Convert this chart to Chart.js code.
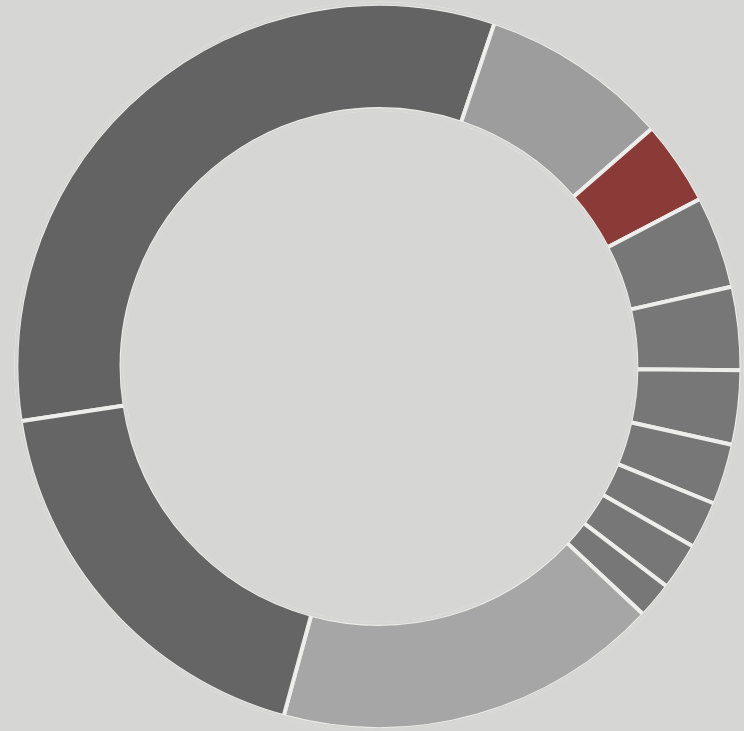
<!DOCTYPE html>
<html>
<head>
<meta charset="utf-8">
<script src="https://cdn.jsdelivr.net/npm/chart.js@4"></script>
<style>
  html, body { margin: 0; padding: 0; background: #d6d6d4; }
  #wrap { width: 744px; height: 731px; }
</style>
</head>
<body>
<div id="wrap"><canvas id="grafico" width="744" height="731"></canvas></div>
<script>
// valores lidos da foto (percentual aproximado de cada fatia, sentido horário)
const categorias = ['A', 'B', 'C', 'D', 'E', 'F', 'G', 'H', 'I', 'J', 'K', 'L'];
const valores = [32.5, 8.4, 3.75, 4.1, 3.7, 3.3, 2.7, 2.1, 2.1, 1.6, 17.2, 18.3];
const cores = ['#636363', '#9d9d9d', '#8a3b38', '#777777', '#777777', '#777777',
  '#777777', '#777777', '#777777', '#777777', '#a6a6a6', '#656565'];
const fundo = '#d6d6d4';

const ctx = document.getElementById('grafico').getContext('2d');

// esconde o contorno claro nas bordas externa/interna, deixando só os separadores
const semContorno = {
  id: 'semContorno',
  afterDatasetsDraw(chart) {
    const arco = chart.getDatasetMeta(0).data[0];
    if (!arco) return;
    const c = chart.ctx;
    c.save();
    c.strokeStyle = fundo;
    c.lineWidth = 3;
    c.beginPath();
    c.arc(arco.x, arco.y, arco.outerRadius + 0.5, 0, Math.PI * 2);
    c.stroke();
    c.beginPath();
    c.arc(arco.x, arco.y, arco.innerRadius - 0.5, 0, Math.PI * 2);
    c.stroke();
    c.restore();
  }
};

const chart = new Chart(ctx, {
  type: 'doughnut',
  data: {
    labels: categorias,
    datasets: [{
      data: valores,
      backgroundColor: cores,
      borderColor: '#ededeb',
      borderWidth: 4
    }]
  },
  options: {
    responsive: false,
    animation: false,
    rotation: -98.7,
    cutout: '71%',
    layout: { padding: { left: 14, top: 2, right: 0, bottom: 0 } },
    plugins: {
      legend: { display: false },
      tooltip: { enabled: false }
    }
  },
  plugins: [semContorno]
});
</script>
</body>
</html>
